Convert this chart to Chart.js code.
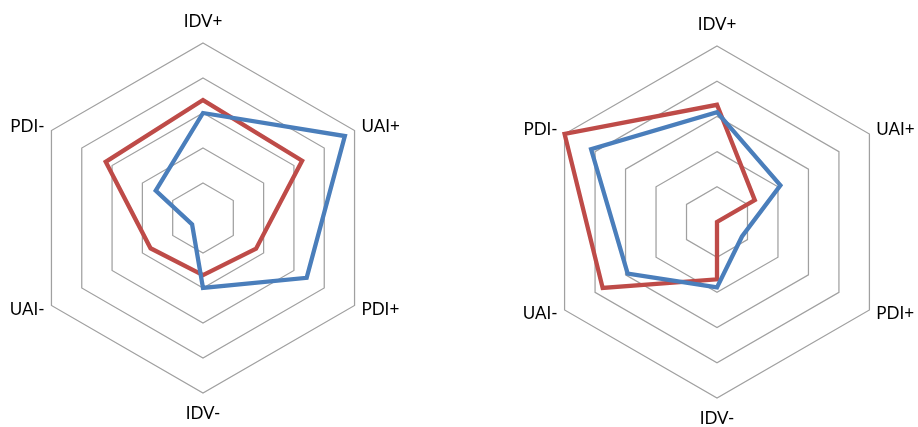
<!DOCTYPE html>
<html>
<head>
<meta charset="utf-8">
<script src="https://cdn.jsdelivr.net/npm/chart.js@4"></script>
<style>
  html, body { margin: 0; padding: 0; background: #fff; overflow: hidden; }
  body { width: 918px; height: 427px; position: relative; }
  .box { position: absolute; top: 0; width: 459px; height: 427px; }
  #boxA { left: 0; }
  #boxB { left: 459px; }
</style>
</head>
<body>
<div class="box" id="boxA"><canvas id="radarA"></canvas></div>
<div class="box" id="boxB"><canvas id="radarB"></canvas></div>
<script>
// eixos (sentido horário a partir do topo)
const eixos = ['IDV+', 'UAI+', 'PDI+', 'IDV-', 'UAI-', 'PDI-'];

// gráfico da esquerda
const azulA = [3.0, 4.68, 3.42, 2.0, 0.36, 1.56];
const vermelhoA = [3.37, 3.27, 1.75, 1.63, 1.73, 3.21];

// gráfico da direita
const azulB = [3.12, 2.08, 0.82, 1.86, 2.93, 4.13];
const vermelhoB = [3.33, 1.24, 0.0, 1.63, 3.75, 5.0];

const escalaMax = 5;
const passo = 1;
const fonte = '17px Lato, "Liberation Sans", sans-serif';

Chart.defaults.animation = false;

// rótulos dos eixos, posicionados pela própria escala radial
const rotulosPlugin = {
  id: 'rotulos',
  afterDraw(chart) {
    const esc = chart.scales.r;
    const c = chart.ctx;
    c.save();
    c.font = fonte;
    c.fillStyle = '#000';
    c.textBaseline = 'middle';
    eixos.forEach((txt, i) => {
      const ang = esc.getIndexAngle(i);
      const s = Math.sin(ang);
      const vertical = Math.abs(s) < 0.01;
      const p = esc.getPointPosition(i, esc.drawingArea + (vertical ? 21 : 8));
      c.textAlign = vertical ? 'center' : (s > 0 ? 'left' : 'right');
      c.fillText(txt, p.x, p.y);
    });
    c.restore();
  }
};

function criarRadar(id, azul, vermelho, pad) {
  const ctx = document.getElementById(id);
  return new Chart(ctx, {
    type: 'radar',
    data: {
      labels: eixos,
      datasets: [
        {
          label: 'Série 1',
          data: azul,
          borderColor: '#4a7ebb',
          backgroundColor: 'transparent',
          borderWidth: 4.3,
          pointRadius: 0,
          fill: false,
          tension: 0,
          borderJoinStyle: 'miter'
        },
        {
          label: 'Série 2',
          data: vermelho,
          borderColor: '#be4b48',
          backgroundColor: 'transparent',
          borderWidth: 4.3,
          pointRadius: 0,
          fill: false,
          tension: 0,
          borderJoinStyle: 'miter'
        }
      ]
    },
    options: {
      responsive: true,
      maintainAspectRatio: false,
      layout: { padding: pad },
      plugins: { legend: { display: false }, tooltip: { enabled: false } },
      scales: {
        r: {
          min: 0,
          max: escalaMax,
          ticks: { stepSize: passo, display: false },
          angleLines: { display: false },
          grid: { color: '#a0a0a0', lineWidth: 1.25 },
          pointLabels: { display: false }
        }
      }
    },
    plugins: [rotulosPlugin]
  });
}

criarRadar('radarA', azulA, vermelhoA, { left: 28, right: 81, top: 43, bottom: 34 });
criarRadar('radarB', azulB, vermelhoB, { left: 82, right: 25, top: 46, bottom: 29 });
</script>
</body>
</html>
